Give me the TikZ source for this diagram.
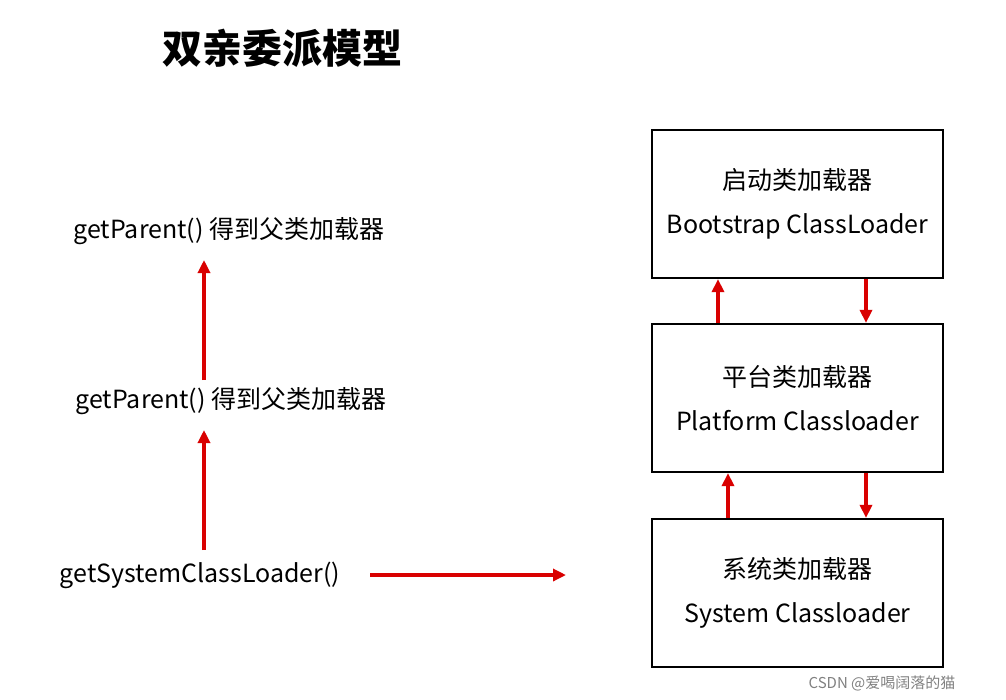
\documentclass[tikz,border=0pt]{standalone}
\usepackage{fontspec}
\setmainfont{Noto Sans CJK SC}
\usetikzlibrary{arrows.meta}
\begin{document}
\begin{tikzpicture}[x=1pt,y=-1pt,
 box/.style={draw,line width=2.2pt,minimum width=291pt,minimum height=148pt,align=center,font=\fontsize{25}{44}\selectfont},
 lbl/.style={font=\fontsize{25}{28}\selectfont},
 arr/.style={draw=red!85!black,line width=3.2pt,-{Triangle[length=13pt,width=12pt]}}]
\useasboundingbox (0,0) rectangle (1006,699);
\node[font=\fontsize{40}{46}\selectfont\bfseries] (t) at (282,48) {双亲委派模型};
\node[box] (b1) at (797.5,204) {启动类加载器\\Bootstrap ClassLoader};
\node[box] (b2) at (797.5,398) {平台类加载器\\Platform Classloader};
\node[box] (b3) at (797.5,593) {系统类加载器\\System Classloader};
\draw[arr] (b1.south -| 866,0) -- (b2.north -| 866,0);
\draw[arr] (b2.north -| 718,0) -- (b1.south -| 718,0);
\draw[arr] (b2.south -| 866,0) -- (b3.north -| 866,0);
\draw[arr] (b3.north -| 728,0) -- (b2.south -| 728,0);
\node[lbl] (p1) at (229,231) {getParent() 得到父类加载器};
\node[lbl] (p2) at (231,401) {getParent() 得到父类加载器};
\node[lbl] (s) at (200,575) {getSystemClassLoader()};
\coordinate (e) at (566,575);
\draw[arr] (204,550) -- (204,430);
\draw[arr] (204,380) -- (204,260);
\draw[arr] (370,575) -- (e);
\node[font=\fontsize{15}{18}\selectfont,text=gray] (w) at (882,683) {CSDN @爱喝阔落的猫};
\end{tikzpicture}
\end{document}
